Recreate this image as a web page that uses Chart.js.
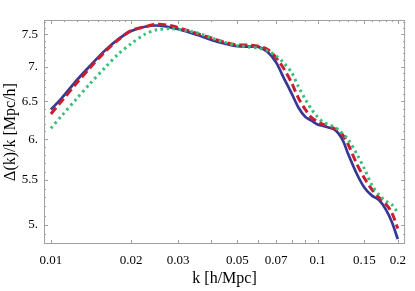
<!DOCTYPE html>
<html>
<head>
<meta charset="utf-8">
<script src="https://cdn.jsdelivr.net/npm/chart.js@4/dist/chart.umd.min.js"></script>
<style>
html, body { margin: 0; padding: 0; background: #fff; }
#wrap { width: 415px; height: 291px; }
</style>
</head>
<body>
<div id="wrap"><canvas id="chart"></canvas></div>
<script>
// k in h/Mpc
const kValues = [0.01, 0.011, 0.0125, 0.014, 0.016, 0.018, 0.02, 0.0225, 0.025, 0.028, 0.032, 0.036, 0.04, 0.045,
    0.05, 0.055, 0.06, 0.065, 0.07, 0.075, 0.08, 0.085, 0.09, 0.095, 0.1, 0.105, 0.11, 0.115, 0.12, 0.125, 0.13,
    0.14, 0.15, 0.16, 0.17, 0.18, 0.19, 0.2];
const blueValues = [6.39, 6.55, 6.80, 7.01, 7.25, 7.43, 7.55, 7.62, 7.64, 7.61, 7.55, 7.48, 7.41, 7.35,
    7.31, 7.305, 7.30, 7.22, 7.06, 6.82, 6.61, 6.41, 6.29, 6.24, 6.19, 6.17, 6.15, 6.13, 6.07, 5.97, 5.82,
    5.58, 5.41, 5.32, 5.27, 5.17, 5.03, 4.85];
const redValues = [6.33, 6.51, 6.76, 6.98, 7.23, 7.42, 7.56, 7.62, 7.66, 7.64, 7.57, 7.50, 7.44, 7.37,
    7.33, 7.33, 7.31, 7.26, 7.13, 6.96, 6.76, 6.54, 6.39, 6.28, 6.23, 6.19, 6.17, 6.14, 6.11, 6.04, 5.94,
    5.70, 5.52, 5.39, 5.30, 5.23, 5.13, 4.96];
const greenValues = [6.14, 6.31, 6.54, 6.75, 6.99, 7.20, 7.35, 7.50, 7.57, 7.59, 7.56, 7.51, 7.44, 7.37,
    7.32, 7.30, 7.28, 7.24, 7.16, 7.05, 6.91, 6.70, 6.53, 6.39, 6.29, 6.22, 6.19, 6.16, 6.12, 6.06, 6.00,
    5.82, 5.63, 5.44, 5.33, 5.26, 5.22, 5.13];

const xTickValues = [0.01, 0.02, 0.03, 0.05, 0.07, 0.1, 0.15, 0.2];
const xTickLabels = ['0.01', '0.02', '0.03', '0.05', '0.07', '0.1', '0.15', '0.2'];
const xBottomMarks = [0.01, 0.02, 0.03, 0.04, 0.05, 0.06, 0.07, 0.08, 0.09, 0.1, 0.15, 0.2];
const xTopMinor = [0.0112, 0.0125, 0.0138, 0.015, 0.016, 0.017, 0.018, 0.019, 0.04, 0.06, 0.08, 0.09,
    0.11, 0.12, 0.13, 0.14, 0.16, 0.17, 0.18, 0.19];
const yTickValues = [5, 5.5, 6, 6.5, 7, 7.5];
const yTickLabels = ['5.', '5.5', '6.', '6.5', '7.', '7.5'];
const yMinor = [4.9, 5.1, 5.2, 5.3, 5.4, 5.6, 5.7, 5.8, 5.9, 6.1, 6.2, 6.3, 6.4, 6.6, 6.7, 6.8, 6.9,
    7.1, 7.2, 7.3, 7.4, 7.6, 7.7];

const frameColor = '#a0a0a0';
const serif = '"Liberation Serif", "DejaVu Serif", serif';

function toPoints(values) {
    return values.map((v, i) => ({ x: kValues[i], y: v }));
}

// Mathematica style frame with inward ticks on all four sides
const framePlugin = {
    id: 'frame',
    afterDatasetsDraw(chart) {
        const { ctx, chartArea: a, scales } = chart;
        const xs = scales.x, ys = scales.y;
        ctx.save();
        ctx.strokeStyle = frameColor;
        ctx.lineWidth = 1;
        ctx.strokeRect(a.left + 0.5, a.top + 0.5, a.right - a.left - 1, a.bottom - a.top - 1);
        ctx.beginPath();
        xBottomMarks.forEach(v => {
            const px = Math.round(xs.getPixelForValue(v)) + 0.5;
            ctx.moveTo(px, a.bottom); ctx.lineTo(px, a.bottom - 4);
        });
        xTickValues.forEach(v => {
            const px = Math.round(xs.getPixelForValue(v)) + 0.5;
            ctx.moveTo(px, a.top); ctx.lineTo(px, a.top + 4);
        });
        xTopMinor.forEach(v => {
            const px = Math.round(xs.getPixelForValue(v)) + 0.5;
            ctx.moveTo(px, a.top); ctx.lineTo(px, a.top + 2);
        });
        yTickValues.forEach(v => {
            const py = Math.round(ys.getPixelForValue(v)) + 0.5;
            ctx.moveTo(a.left, py); ctx.lineTo(a.left + 4, py);
            ctx.moveTo(a.right, py); ctx.lineTo(a.right - 4, py);
        });
        yMinor.forEach(v => {
            const py = Math.round(ys.getPixelForValue(v)) + 0.5;
            ctx.moveTo(a.left, py); ctx.lineTo(a.left + 2, py);
            ctx.moveTo(a.right, py); ctx.lineTo(a.right - 2, py);
        });
        ctx.stroke();
        ctx.restore();
    }
};

new Chart(document.getElementById('chart'), {
    type: 'line',
    data: {
        datasets: [
            {
                label: 'green',
                data: toPoints(greenValues),
                borderColor: 'rgb(55, 190, 120)',
                borderWidth: 3,
                borderDash: [2.5, 3.5],
                pointRadius: 0,
                tension: 0.3
            },
            {
                label: 'red',
                data: toPoints(redValues),
                borderColor: 'rgb(200, 30, 45)',
                borderWidth: 3,
                borderDash: [8, 4],
                pointRadius: 0,
                tension: 0.3
            },
            {
                label: 'blue',
                data: toPoints(blueValues),
                borderColor: 'rgb(55, 55, 150)',
                borderWidth: 2.7,
                pointRadius: 0,
                tension: 0.3
            }
        ]
    },
    options: {
        responsive: true,
        maintainAspectRatio: false,
        animation: false,
        layout: { padding: { top: 20, right: 4, left: 0, bottom: 0 } },
        plugins: {
            legend: { display: false },
            tooltip: { enabled: false }
        },
        scales: {
            x: {
                type: 'logarithmic',
                min: 0.00942,
                max: 0.213,
                grid: { display: false, drawTicks: false },
                border: { display: false },
                afterBuildTicks: (scale) => {
                    scale.ticks = xTickValues.map(v => ({ value: v }));
                },
                afterFit: (scale) => { scale.height = 47; },
                ticks: {
                    autoSkip: false,
                    maxRotation: 0,
                    padding: 9,
                    color: '#000',
                    font: { family: serif, size: 13 },
                    callback: (value, index) => xTickLabels[index]
                },
                title: {
                    display: true,
                    text: 'k [h/Mpc]',
                    color: '#000',
                    font: { family: serif, size: 16 },
                    padding: { top: 0, bottom: 3 }
                }
            },
            y: {
                type: 'logarithmic',
                min: 4.833,
                max: 7.73,
                grid: { display: false, drawTicks: false },
                border: { display: false },
                afterBuildTicks: (scale) => {
                    scale.ticks = yTickValues.map(v => ({ value: v }));
                },
                afterFit: (scale) => { scale.width = 44; },
                ticks: {
                    autoSkip: false,
                    padding: 6,
                    color: '#000',
                    font: { family: serif, size: 13 },
                    callback: (value, index) => yTickLabels[index]
                },
                title: {
                    display: true,
                    text: 'Δ(k)/k [Mpc/h]',
                    color: '#000',
                    font: { family: serif, size: 16 },
                    padding: { top: 1, bottom: 0 }
                }
            }
        }
    },
    plugins: [framePlugin]
});
</script>
</body>
</html>
